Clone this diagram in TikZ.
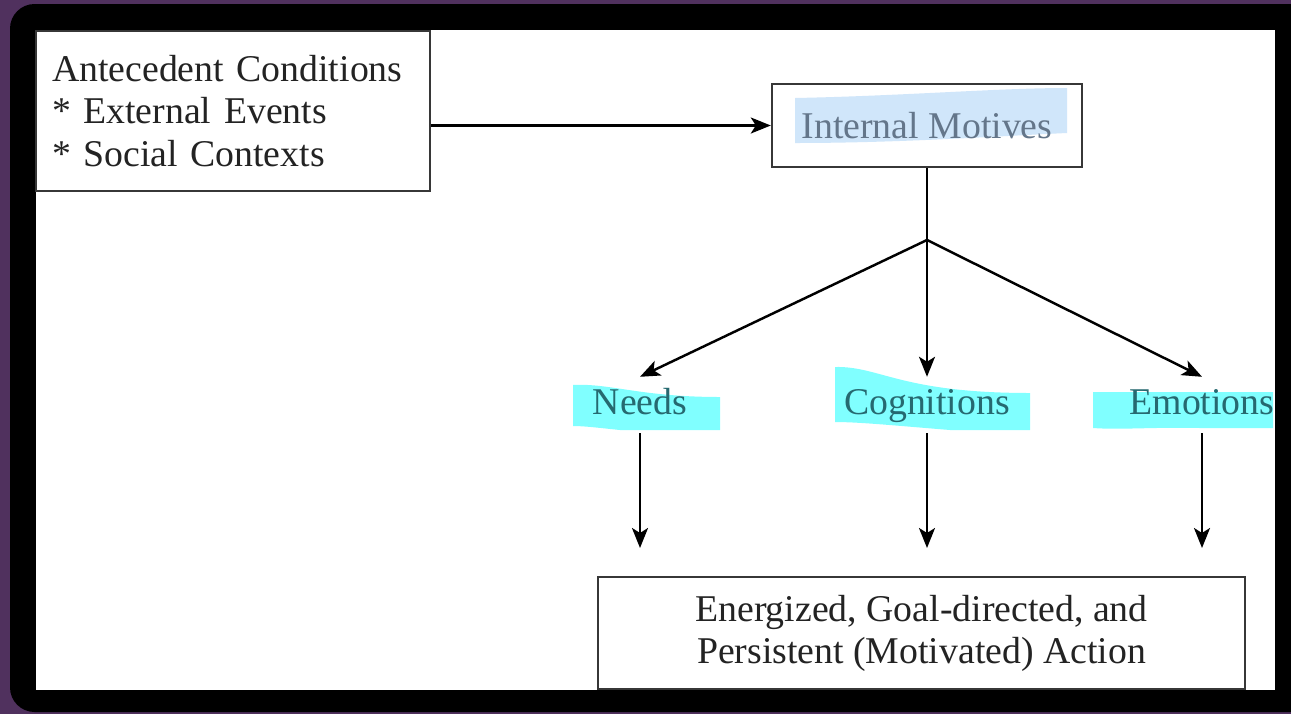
\documentclass[tikz,border=0pt]{standalone}
\usepackage{fontspec}
\setmainfont{Liberation Serif}
\usetikzlibrary{arrows.meta}
\definecolor{bgpurple}{RGB}{80,49,94}
\definecolor{hlblue}{RGB}{208,230,250}
\definecolor{hlcyan}{RGB}{128,255,255}
\definecolor{txtblue}{RGB}{100,118,138}
\definecolor{txtteal}{RGB}{38,105,112}
\definecolor{edgegray}{RGB}{55,55,55}
\definecolor{txtgray}{RGB}{35,35,35}

\begin{document}
\begin{tikzpicture}[x=0.02cm,y=-0.02cm,line width=1.4pt,>={Stealth[length=4mm,width=3.2mm,inset=1mm]},
  box/.style={draw=edgegray,line width=1.4pt,inner sep=0pt,text=txtgray,font=\fontsize{21.5}{24}\selectfont},
  factor/.style={inner sep=0pt,minimum height=1.08cm,text height=15pt,text depth=4pt,
    font=\fontsize{21.5}{24}\selectfont,text=txtteal}]
  \useasboundingbox (0,0) rectangle (1291,714);
  \clip (0,0) rectangle (1291,714);
  % frame
  \fill[bgpurple] (0,0) rectangle (1291,714);
  \fill[black,rounded corners=14] (10,4) rectangle (1330,712);
  \fill[white] (36,30) rectangle (1275,690);
  % marker highlights
  \fill[hlblue] (795,98) .. controls (900,96) and (1000,88) .. (1067,88)
    -- (1067,133) .. controls (1000,136) and (900,143) .. (795,143) -- cycle;
  \fill[hlcyan] (573,385) .. controls (610,383) and (640,397) .. (720,397)
    -- (720,430) -- (620,430) .. controls (600,428) and (585,426) .. (573,426) -- cycle;
  \fill[hlcyan] (835,367) .. controls (880,366) and (900,393) .. (1030,393)
    -- (1030,430) -- (950,430) .. controls (900,426) and (860,422) .. (835,422) -- cycle;
  \fill[hlcyan] (1093,392) -- (1273,392) -- (1273,428) -- (1200,428)
    .. controls (1150,427) and (1120,430) .. (1093,428) -- cycle;

  \node[box,minimum width=7.88cm,minimum height=3.2cm,text width=7.24cm,align=left] (ante) at (233,111)
    {Antecedent Conditions\\{}* External Events\\{}* Social Contexts};
  \node[box,minimum width=6.2cm,minimum height=1.66cm,text=txtblue] (motives) at (927,125.5) {Internal Motives};
  \node[box,minimum width=12.94cm,minimum height=2.24cm,align=center] (action) at (921.5,633)
    {Energized, Goal-directed, and\\Persistent (Motivated) Action};

  \node[factor] (needs) at (640,405) {Needs};
  \node[factor] (cogn) at (927,405) {Cognitions};
  \node[factor] (emot) at (1202,405) {Emotions};

  \coordinate (split) at (927,240);
  \coordinate (needsend) at (640,548);
  \coordinate (cognend) at (927,548);
  \coordinate (emotend) at (1202,548);

  \draw[->] (ante.east |- motives) -- (motives);
  \draw (motives) -- (split);
  \draw[->] (split) -- (needs.north);
  \draw[->] (split) -- (cogn.north);
  \draw[->] (split) -- (emot.north);
  \draw[->] (needs) -- (needsend);
  \draw[->] (cogn) -- (cognend);
  \draw[->] (emot) -- (emotend);
\end{tikzpicture}
\end{document}
